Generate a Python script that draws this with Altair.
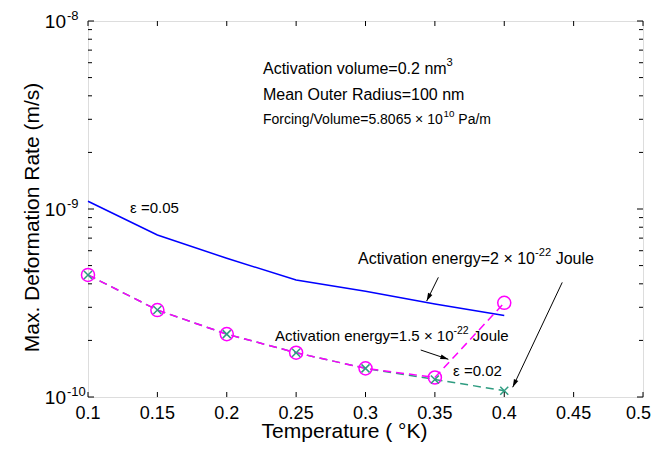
import math
import altair as alt
import pandas as pd

# ---------------- data ----------------
T = [0.1, 0.15, 0.2, 0.25, 0.3, 0.35, 0.4]
rate_eps005 = [1.10e-9, 7.27e-10, 5.47e-10, 4.19e-10, 3.65e-10, 3.12e-10, 2.71e-10]
rate_E15 = [4.46e-10, 2.90e-10, 2.16e-10, 1.72e-10, 1.42e-10, 1.27e-10, 3.17e-10]
rate_eps002 = [4.46e-10, 2.90e-10, 2.16e-10, 1.72e-10, 1.42e-10, 1.24e-10, 1.08e-10]

x_ticks = [0.1, 0.15, 0.2, 0.25, 0.3, 0.35, 0.4, 0.45, 0.5]
x_tick_labels = ["0.1", "0.15", "0.2", "0.25", "0.3", "0.35", "0.4", "0.45", "0.5"]
y_major = [1e-10, 1e-9, 1e-8]
y_exp = ["-10", "-9", "-8"]
y_minor = [2e-10, 3e-10, 4e-10, 5e-10, 6e-10, 7e-10, 8e-10, 9e-10,
           2e-9, 3e-9, 4e-9, 5e-9, 6e-9, 7e-9, 8e-9, 9e-9]

# annotation texts: (piece, is_superscript)
ann_pieces = [
    [("Activation volume=0.2 nm", 0), ("3", 1)],
    [("Mean Outer Radius=100 nm", 0)],
    [("Forcing/Volume=5.8065 × 10", 0), ("10", 1), (" Pa/m", 0)],
    [("ε =0.05", 0)],
    [("Activation energy=2 × 10", 0), ("-22", 1), (" Joule", 0)],
    [("Activation energy=1.5 × 10", 0), ("-22", 1), (" Joule", 0)],
    [("ε =0.02", 0)],
]
ann_x = [0.2261, 0.2261, 0.2261, 0.1303, 0.2946, 0.2348, 0.3631]
ann_y = [5.22e-9, 3.80e-9, 2.83e-9, 9.52e-10, 5.10e-10, 1.985e-10, 1.293e-10]
ann_size = [16, 16, 14, 15, 16, 15, 15]

arr_x = [0.3525, 0.4418, 0.3398]
arr_y = [4.33e-10, 4.07e-10, 1.778e-10]
arr_x2 = [0.3441, 0.4061, 0.3597]
arr_y2 = [3.24e-10, 1.127e-10, 1.587e-10]

# ---------------- layout ----------------
W, H = 555, 376
FONT = "Liberation Sans"
XDOM = [0.1, 0.5]
YDOM = [1e-10, 1e-8]
DECADE_PX = H / (math.log10(YDOM[1]) - math.log10(YDOM[0]))

xs = alt.Scale(domain=XDOM, nice=False, zero=False)
ys = alt.Scale(type="log", domain=YDOM, nice=False)

# approximate Arial / Liberation Sans advance widths (per 1000 em)
ADV = {' ': 278, 'A': 667, 'c': 500, 't': 278, 'i': 222, 'v': 500, 'o': 556, 'n': 556,
       'l': 222, 'u': 556, 'm': 833, 'e': 556, '=': 584, '.': 278, 'M': 833, 'a': 556,
       'O': 778, 'r': 333, 'R': 722, 'd': 556, 's': 500, 'F': 611, 'g': 556, '/': 278,
       'V': 667, '×': 584, 'P': 667, 'y': 500, 'J': 500, '-': 333, 'ε': 500}


def text_w(s, size):
    return sum(ADV.get(ch, 556) for ch in s) / 1000.0 * size


def px(xv, yv):
    return ((xv - XDOM[0]) / (XDOM[1] - XDOM[0]) * W,
            H - (math.log10(yv) - math.log10(YDOM[0])) * DECADE_PX)


rows = []
for pieces, x0, y0, fs in zip(ann_pieces, ann_x, ann_y, ann_size):
    off = 0.0
    for txt, sup in pieces:
        size = round(fs * 0.7, 1) if sup else fs
        raise_px = fs * 0.48 if sup else 0.0
        lead = len(txt) - len(txt.lstrip(" "))
        off += text_w(" " * lead, size)
        txt = txt.lstrip(" ")
        rows.append({"x": x0 + off / W * (XDOM[1] - XDOM[0]),
                     "y": y0 * 10 ** (raise_px / DECADE_PX),
                     "t": txt, "fs": size})
        off += text_w(txt, size)
df_ann = pd.DataFrame(rows)

angles = []
for a, b, c, d in zip(arr_x, arr_y, arr_x2, arr_y2):
    p0 = px(a, b)
    p1 = px(c, d)
    dx, dy = p1[0] - p0[0], p1[1] - p0[1]
    angles.append(math.degrees(math.atan2(dx, -dy)) % 360)

df_lines = pd.DataFrame({"T": T, "a": rate_eps005, "b": rate_E15, "c": rate_eps002})
df_arr = pd.DataFrame({"x": arr_x, "y": arr_y, "x2": arr_x2, "y2": arr_y2, "ang": angles})
df_xt = pd.DataFrame({"x": x_ticks, "lab": x_tick_labels})
df_ymaj = pd.DataFrame({"y": y_major, "e": y_exp})
df_ymin = pd.DataFrame({"y": y_minor})

base = alt.Chart(df_lines)

green_line = base.mark_line(color="#2e9c80", strokeWidth=1.5, strokeDash=[8, 5]).encode(
    x=alt.X("T:Q", scale=xs,
            axis=alt.Axis(ticks=False, labels=False, domain=False, grid=False,
                          title="Temperature ( °K)", titleFont=FONT, titleFontSize=21,
                          titleFontWeight="normal", titleColor="black",
                          titleX=256, titleY=40, titleBaseline="alphabetic")),
    y=alt.Y("c:Q", scale=ys,
            axis=alt.Axis(ticks=False, labels=False, domain=False, grid=False,
                          title="Max. Deformation Rate (m/s)", titleFont=FONT, titleFontSize=21,
                          titleFontWeight="normal", titleColor="black",
                          titleX=-50, titleY=196, titleBaseline="alphabetic")),
)
blue_line = base.mark_line(color="#0000ff", strokeWidth=1.5).encode(
    x=alt.X("T:Q", scale=xs), y=alt.Y("a:Q", scale=ys))
mag_line = base.mark_line(color="#ff00ff", strokeWidth=1.5, strokeDash=[8, 5]).encode(
    x=alt.X("T:Q", scale=xs), y=alt.Y("b:Q", scale=ys))
mag_pts = base.mark_point(shape="circle", size=170, color="#ff00ff", strokeWidth=1.5,
                          filled=False, opacity=1).encode(
    x=alt.X("T:Q", scale=xs), y=alt.Y("b:Q", scale=ys))
green_pts = base.mark_point(shape="M-1,-1L1,1M1,-1L-1,1", size=64, color="#2e9c80",
                            strokeWidth=1.5, filled=False, opacity=1).encode(
    x=alt.X("T:Q", scale=xs), y=alt.Y("c:Q", scale=ys))

# ticks (inward, on all four sides)
xt_bot = alt.Chart(df_xt).mark_rule(color="black", strokeWidth=1).encode(
    x=alt.X("x:Q", scale=xs), y=alt.value(H), y2=alt.value(H - 5))
xt_top = alt.Chart(df_xt).mark_rule(color="black", strokeWidth=1).encode(
    x=alt.X("x:Q", scale=xs), y=alt.value(0), y2=alt.value(5))
ymaj_l = alt.Chart(df_ymaj).mark_rule(color="black", strokeWidth=1).encode(
    y=alt.Y("y:Q", scale=ys), x=alt.value(0), x2=alt.value(6))
ymaj_r = alt.Chart(df_ymaj).mark_rule(color="black", strokeWidth=1).encode(
    y=alt.Y("y:Q", scale=ys), x=alt.value(W), x2=alt.value(W - 6))
ymin_l = alt.Chart(df_ymin).mark_rule(color="black", strokeWidth=1).encode(
    y=alt.Y("y:Q", scale=ys), x=alt.value(0), x2=alt.value(4))
ymin_r = alt.Chart(df_ymin).mark_rule(color="black", strokeWidth=1).encode(
    y=alt.Y("y:Q", scale=ys), x=alt.value(W), x2=alt.value(W - 4))

# x tick labels (last one kept inside the page edge)
xlab = alt.Chart(df_xt).transform_filter(alt.datum.x < 0.49).mark_text(
    font=FONT, fontSize=18, align="center", baseline="alphabetic", color="black").encode(
    x=alt.X("x:Q", scale=xs), y=alt.value(H + 22), text="lab:N")
xlab_last = alt.Chart(df_xt).transform_filter(alt.datum.x > 0.49).mark_text(
    font=FONT, fontSize=18, align="right", baseline="alphabetic", color="black").encode(
    x=alt.value(W + 8), y=alt.value(H + 22), text="lab:N")

# y tick labels 10^k
ylab_base = alt.Chart(df_ymaj).mark_text(font=FONT, fontSize=19, align="right",
                                         baseline="alphabetic", dy=7, color="black").encode(
    y=alt.Y("y:Q", scale=ys), x=alt.value(-22), text=alt.value("10"))
ylab_exp = alt.Chart(df_ymaj).mark_text(font=FONT, fontSize=13, align="left",
                                        baseline="alphabetic", dy=-1, color="black").encode(
    y=alt.Y("y:Q", scale=ys), x=alt.value(-21), text="e:N")

# annotations
ann = alt.Chart(df_ann).mark_text(font=FONT, align="left", baseline="alphabetic",
                                  color="black").encode(
    x=alt.X("x:Q", scale=xs), y=alt.Y("y:Q", scale=ys), text="t:N",
    size=alt.Size("fs:Q", scale=None, legend=None))

arrows = alt.Chart(df_arr).mark_rule(color="black", strokeWidth=1).encode(
    x=alt.X("x:Q", scale=xs), y=alt.Y("y:Q", scale=ys), x2="x2:Q", y2="y2:Q")
heads = alt.Chart(df_arr).mark_point(shape="M0,0L-0.3,1L0.3,1Z", size=256, filled=True,
                                     color="black", opacity=1).encode(
    x=alt.X("x2:Q", scale=xs), y=alt.Y("y2:Q", scale=ys),
    angle=alt.Angle("ang:Q", scale=None))

chart = alt.layer(
    green_line, blue_line, mag_line, mag_pts, green_pts,
    xt_bot, xt_top, ymaj_l, ymaj_r, ymin_l, ymin_r,
    xlab, xlab_last, ylab_base, ylab_exp, ann, arrows, heads,
).properties(
    width=W, height=H,
    autosize=alt.AutoSizeParams(type="none"),
    padding={"left": 80, "top": 13, "right": 8, "bottom": 45},
).configure_view(
    stroke="black", strokeWidth=1.5
).configure(background="white")

chart.save("out.html", embed_options={"renderer": "svg", "actions": False})
